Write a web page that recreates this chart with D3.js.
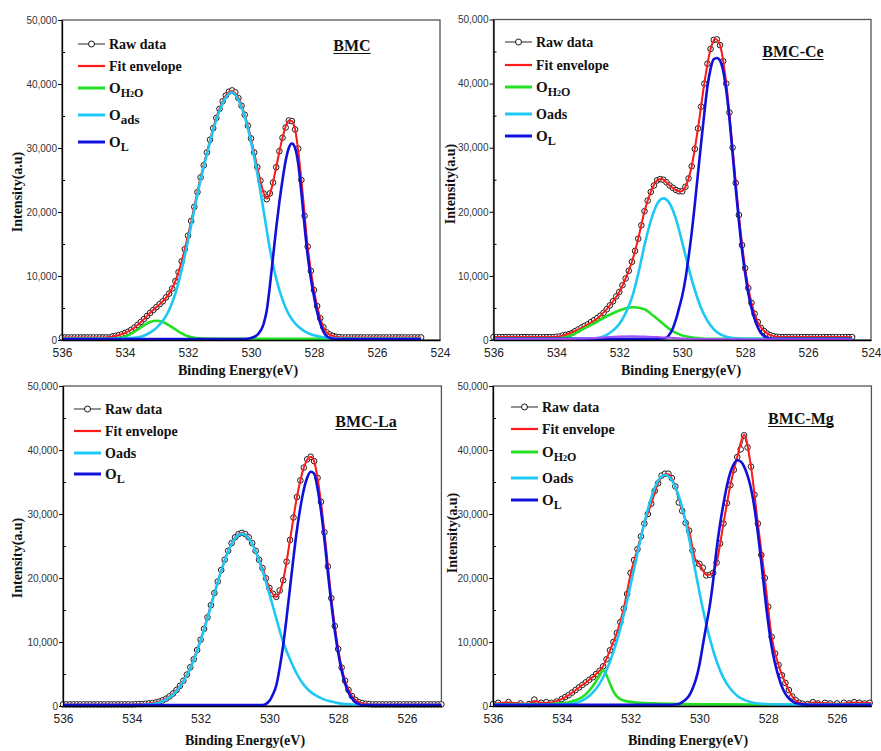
<!DOCTYPE html>
<html><head><meta charset="utf-8">
<script src="https://cdn.jsdelivr.net/npm/d3@7"></script>
<style>body{margin:0;background:#fff}svg{display:block}</style>
</head><body><svg id="c" width="881" height="751"></svg>
<script>
// ---------- DATA (intensities in thousands of counts, energies in eV) ----------
const xTicksWide=[536,534,532,530,528,526,524];
const xTicksNarrow=[536,534,532,530,528,526];
const yTicks=[0,10000,20000,30000,40000,50000];
const yMinorTicks=[5000,15000,25000,35000,45000];
const K=1000;
const rawStep=0.1;

// BMC raw data, 536.0 -> 524.6 eV
const bmcRaw=[0.4,0.4,0.4,0.4,0.4,0.4,0.4,0.4,0.4,0.4,0.4,0.4,0.4,0.4,0.4,0.4,
0.55,0.65,0.75,0.9,1.1,1.3,1.6,1.95,2.35,2.8,3.25,3.75,4.25,4.7,5.15,5.6,6.05,6.65,7.25,8.05,9.2,10.6,12.3,14.2,16.3,18.6,20.8,23.1,25.4,27.3,29.3,31.3,33.1,34.7,36.1,37.3,38.2,38.8,39.0,38.7,37.8,36.6,35.2,33.5,31.5,29.3,27.0,24.9,22.9,22.0,22.9,24.6,27.0,29.5,31.6,33.2,34.3,34.2,32.9,29.9,25.0,19.4,14.6,10.8,7.8,5.3,3.4,2.0,1.2,0.85,0.65,0.5,0.45,0.4,
0.4,0.4,0.4,0.4,0.4,0.4,0.4,0.4,0.4,0.4,0.4,0.4,0.4,0.4,0.4,0.4,0.4,0.4,0.4,0.4,0.4,0.4,0.4,0.4,0.4];
const bmcEnv=[[536,0.4],[534.6,0.4],[534.4,0.55],[534.2,0.75],[534,1.1],[533.8,1.6],[533.6,2.35],[533.4,3.25],[533.2,4.25],[533,5.15],[532.8,6.05],[532.6,7.25],[532.4,9.2],[532.2,12.3],[532,16.3],[531.8,20.8],[531.6,25.4],[531.4,29.3],[531.2,33.1],[531,36.1],[530.8,38.2],[530.6,38.9],[530.4,37.8],[530.2,35.2],[530,31.5],[529.8,27.0],[529.6,23.0],[529.5,22.1],[529.4,22.8],[529.2,27.0],[529,31.6],[528.8,34.3],[528.7,34.2],[528.6,32.9],[528.4,25.0],[528.2,14.6],[528,7.8],[527.8,3.4],[527.6,1.2],[527.4,0.65],[527.2,0.45],[527,0.4],[524.6,0.4]];
const bmcH2O=[[536,0.2],[534.5,0.2],[534.2,0.3],[534,0.55],[533.8,1.0],[533.6,1.6],[533.4,2.3],[533.2,2.8],[533,3.0],[532.8,2.8],[532.6,2.3],[532.4,1.65],[532.2,1.05],[532,0.6],[531.8,0.35],[531.5,0.22],[531,0.2],[524.6,0.2]];
const bmcAds=[[536,0.2],[534.5,0.2],[534,0.25],[533.7,0.35],[533.5,0.5],[533.3,0.9],[533.1,1.5],[533,1.9],[532.8,3.0],[532.6,4.7],[532.4,7.3],[532.2,11.0],[532,15.5],[531.8,20.3],[531.6,25.0],[531.4,29.0],[531.2,32.8],[531,35.8],[530.8,37.9],[530.6,38.7],[530.4,37.5],[530.2,34.9],[530,31.0],[529.8,26.0],[529.6,20.2],[529.4,14.2],[529.2,9.6],[529,6.3],[528.8,4.0],[528.6,2.6],[528.4,1.7],[528.2,1.1],[528,0.75],[527.8,0.5],[527.5,0.3],[527,0.2],[524.6,0.2]];
const bmcOL=[[536,0.15],[530.2,0.15],[530,0.3],[529.8,0.8],[529.6,2.5],[529.5,4.6],[529.4,8.5],[529.3,13.0],[529.2,17.5],[529.1,21.5],[529,25.0],[528.9,28.0],[528.8,30.0],[528.7,30.7],[528.6,30.0],[528.5,27.5],[528.4,23.0],[528.3,17.8],[528.2,13.2],[528.1,9.6],[528,6.8],[527.9,4.4],[527.8,2.6],[527.7,1.3],[527.6,0.6],[527.5,0.3],[527.3,0.15],[524.6,0.15]];

// BMC-Ce raw data, 536.0 -> 524.6 eV
const ceRaw=[0.45,0.45,0.45,0.45,0.45,0.45,0.45,0.45,0.45,0.45,0.45,0.45,0.45,0.45,0.45,0.45,0.45,0.45,0.45,0.45,
0.5,0.55,0.7,0.8,0.9,1.1,1.4,1.65,1.95,2.2,2.45,2.8,3.1,3.45,3.8,4.25,4.8,5.4,6.05,6.8,7.5,8.55,9.6,10.8,12.2,13.9,15.8,17.9,20.1,21.75,23.1,24.1,24.9,25.1,25.0,24.6,24.1,23.75,23.4,23.2,23.2,23.9,25.2,27.1,29.8,33.0,36.4,40.0,43.1,45.4,46.8,46.9,46.0,43.5,40.0,35.5,30.0,24.5,19.5,14.8,11.2,8.1,5.8,4.1,2.8,1.9,1.4,1.0,0.75,0.6,0.5,
0.45,0.45,0.45,0.45,0.45,0.45,0.45,0.45,0.45,0.45,0.45,0.45,0.45,0.45,0.45,0.45,0.45,0.45,0.45,0.45,0.45,0.45,0.45,0.45];
const ceEnv=[[536,0.45],[534.1,0.45],[533.8,0.7],[533.4,1.4],[533,2.45],[532.6,3.8],[532.2,6.05],[532,7.5],[531.8,9.6],[531.6,12.2],[531.4,15.8],[531.2,20.1],[531,23.1],[530.8,24.9],[530.65,25.1],[530.4,24.1],[530.2,23.4],[530.05,23.15],[529.9,23.9],[529.7,27.1],[529.5,33.0],[529.3,40.0],[529.1,45.4],[528.95,46.95],[528.8,46.0],[528.6,40.0],[528.4,30.0],[528.2,19.5],[528,11.2],[527.8,5.8],[527.6,2.8],[527.4,1.4],[527.2,0.75],[527,0.5],[526.8,0.45],[524.6,0.45]];
const ceH2O=[[536,0.2],[534,0.2],[533.6,0.6],[533.2,1.6],[532.8,2.6],[532.4,3.7],[532,4.6],[531.8,4.95],[531.55,5.1],[531.2,4.8],[531,4.1],[530.8,3.3],[530.6,2.5],[530.4,1.7],[530.2,1.1],[530,0.7],[529.6,0.35],[529.2,0.2],[524.6,0.2]];
const ceAds=[[536,0.2],[533,0.2],[532.6,0.4],[532.4,0.8],[532.2,1.5],[532,2.5],[531.8,4.2],[531.6,6.6],[531.4,10.3],[531.2,14.8],[531,18.6],[530.8,21.2],[530.6,22.1],[530.4,21.3],[530.2,18.9],[530,15.2],[529.8,11.3],[529.6,7.8],[529.4,5.0],[529.2,3.0],[529,1.7],[528.8,0.9],[528.6,0.5],[528.4,0.3],[528,0.2],[524.6,0.2]];
const ceOL=[[536,0.2],[530.7,0.2],[530.5,0.35],[530.4,0.9],[530.3,1.8],[530.2,3.2],[530.1,5.0],[530,6.9],[529.9,9.5],[529.8,12.9],[529.7,16.7],[529.6,21.2],[529.5,26.0],[529.4,30.7],[529.3,35.3],[529.2,39.5],[529.1,42.3],[529,43.8],[528.9,44.0],[528.8,43.6],[528.7,42.0],[528.6,38.9],[528.5,34.5],[528.4,29.1],[528.3,23.6],[528.2,18.6],[528.1,14.0],[528,10.4],[527.9,7.3],[527.8,5.0],[527.7,3.3],[527.6,2.0],[527.5,1.1],[527.4,0.6],[527.3,0.35],[527.1,0.2],[524.6,0.2]];
const ceExtra=[[536,0.15],[534,0.15],[533,0.25],[532.5,0.4],[532,0.55],[531.6,0.6],[531.2,0.55],[530.8,0.45],[530.4,0.35],[530,0.25],[529.5,0.15],[528,0.1],[524.6,0.1]];

// BMC-La raw data, 536.0 -> 525.0 eV
const laRaw=[0.25,0.25,0.25,0.25,0.25,0.25,0.25,0.25,0.25,0.25,0.25,0.25,0.25,0.25,0.25,0.25,0.25,0.25,0.25,0.25,0.25,
0.27,0.3,0.3,0.35,0.4,0.45,0.55,0.7,0.9,1.15,1.5,1.95,2.5,3.15,3.95,4.9,6.05,7.3,8.75,10.35,12.05,13.85,15.75,17.65,19.45,21.25,22.85,24.25,25.45,26.35,26.85,27.05,26.85,26.35,25.45,24.25,22.85,21.55,19.95,18.45,17.55,17.05,18.05,19.65,22.55,25.95,29.45,32.65,35.25,37.25,38.55,38.95,38.25,35.65,31.9,27.15,21.8,16.85,12.5,8.9,6.0,3.95,2.5,1.55,0.95,0.6,0.45,0.35,0.3,
0.25,0.25,0.25,0.25,0.25,0.25,0.25,0.25,0.25,0.25,0.25,0.25,0.25,0.25,0.25,0.25,0.25,0.25,0.25,0.25,0.25];
const laEnv=[[536,0.25],[534,0.25],[533.6,0.35],[533.2,0.7],[532.8,1.95],[532.4,4.9],[532,10.35],[531.6,17.65],[531.2,24.25],[531,26.35],[530.8,27.05],[530.6,26.35],[530.4,24.25],[530.2,21.55],[530,18.45],[529.8,17.05],[529.6,19.65],[529.4,25.95],[529.2,32.65],[529,37.25],[528.8,38.95],[528.7,38.25],[528.6,35.65],[528.4,27.15],[528.2,16.85],[528,8.9],[527.8,3.95],[527.6,1.55],[527.4,0.6],[527.2,0.35],[527,0.25],[525,0.25]];
const laAds=[[536,0.15],[534,0.15],[533.7,0.2],[533.4,0.3],[533.2,0.55],[533,1.02],[532.8,1.8],[532.6,3.0],[532.4,4.77],[532.2,7.15],[532,10.2],[531.8,13.7],[531.6,17.5],[531.4,21.1],[531.2,24.1],[531,26.2],[530.8,26.9],[530.6,26.2],[530.4,24.1],[530.2,21.1],[530,17.5],[529.8,13.7],[529.6,10.0],[529.4,7.3],[529.2,5.0],[529,3.3],[528.8,2.2],[528.6,1.5],[528.4,1.0],[528.2,0.7],[528,0.45],[527.8,0.3],[527.5,0.2],[527,0.15],[525,0.15]];
const laOL=[[536,0.15],[530.2,0.15],[530,0.8],[529.9,1.8],[529.8,3.2],[529.7,6.0],[529.6,9.5],[529.5,13.8],[529.4,18.5],[529.3,23.2],[529.2,27.5],[529.1,31.0],[529,33.8],[528.9,35.7],[528.8,36.6],[528.7,36.3],[528.6,34.0],[528.5,30.5],[528.4,26.0],[528.3,20.8],[528.2,16.0],[528.1,11.8],[528,8.3],[527.9,5.5],[527.8,3.5],[527.7,2.1],[527.6,1.2],[527.5,0.6],[527.4,0.3],[527.3,0.15],[525,0.15]];

// BMC-Mg raw data: noisy baseline points + 0.1 eV grid 533.9 -> 527.0 eV
const mgRawLeft=[[536,0.3],[535.85,0.5],[535.55,0.6],[535.2,0.4],[534.95,0.3],[534.8,1.0],[534.6,0.5],[534.45,0.6],[534.3,0.5],[534.15,0.7],[534.0,1.1]];
const mgRawGrid=[1.4,1.7,2.1,2.5,2.9,3.3,3.7,4.1,4.5,5.0,5.5,6.2,7.3,8.7,10.0,11.4,13.1,15.2,17.5,20.8,22.8,24.5,26.5,28.5,30.0,31.6,33.6,34.8,36.0,36.3,36.3,35.6,34.3,31.8,30.5,28.6,27.4,24.3,22.4,22.2,21.6,20.4,20.5,20.8,22.4,25.4,28.5,31.7,34.5,36.9,38.9,40.1,42.3,40.4,37.4,33.0,28.5,23.6,20.0,15.5,10.8,8.2,6.4,4.8,3.6,2.5,1.5,0.9,0.5,0.35];
const mgRawRight=[[526.85,0.3],[526.7,0.6],[526.55,0.4],[526.35,0.5],[526.2,0.4],[526.0,0.4],[525.8,0.5],[525.65,0.4],[525.5,0.6],[525.35,0.5],[525.2,0.4],[525.05,0.5]];
const mgEnv=[[536,0.3],[535.85,0.45],[535.55,0.55],[535.2,0.4],[534.95,0.35],[534.8,0.8],[534.6,0.5],[534.3,0.55],[534,1.1],[533.8,1.7],[533.6,2.5],[533.4,3.3],[533.2,4.1],[533,5.0],[532.8,6.2],[532.6,8.7],[532.4,11.4],[532.2,15.2],[532,20.6],[531.8,24.5],[531.6,28.5],[531.4,31.6],[531.2,34.8],[531,36.2],[530.9,36.2],[530.7,34.3],[530.5,30.6],[530.3,27.4],[530.1,22.6],[530,22.2],[529.8,20.5],[529.65,20.6],[529.5,22.4],[529.3,28.5],[529.1,34.5],[528.9,38.9],[528.7,42.4],[528.5,37.4],[528.3,28.5],[528.1,20.0],[527.9,10.8],[527.7,6.4],[527.5,3.6],[527.3,1.5],[527.1,0.5],[526.9,0.35],[526.7,0.55],[526.4,0.45],[526,0.35],[525.5,0.55],[525,0.45]];
const mgH2O=[[536,0.25],[534.5,0.25],[534,0.45],[533.8,0.6],[533.6,0.9],[533.4,1.4],[533.2,2.4],[533,3.9],[532.9,4.8],[532.8,5.6],[532.7,4.8],[532.6,3.5],[532.5,2.3],[532.4,1.5],[532.2,0.85],[532,0.65],[531.7,0.5],[531.2,0.4],[530.5,0.3],[529.5,0.25],[525,0.2]];
const mgAds=[[536,0.2],[534.2,0.2],[533.9,0.25],[533.7,0.35],[533.5,0.64],[533.3,1.2],[533.1,2.1],[532.9,3.5],[532.7,5.6],[532.5,8.45],[532.3,12.1],[532.1,16.5],[531.9,21.4],[531.7,26.3],[531.5,30.7],[531.3,34.1],[531.1,35.9],[531,36.1],[530.9,35.9],[530.7,34.2],[530.5,31.0],[530.3,26.2],[530.1,20.6],[529.9,15.2],[529.7,10.6],[529.5,7.0],[529.3,4.4],[529.1,2.7],[528.9,1.6],[528.7,0.95],[528.5,0.6],[528.2,0.35],[527.8,0.25],[527,0.2],[525,0.2]];
const mgOL=[[536,0.2],[530.8,0.2],[530.6,0.3],[530.5,0.6],[530.4,1.0],[530.3,1.6],[530.2,2.7],[530.1,4.2],[530,6.4],[529.9,9.5],[529.8,12.6],[529.7,15.6],[529.6,19.6],[529.5,24.5],[529.4,28.4],[529.3,31.6],[529.2,34.4],[529.1,36.5],[529,37.8],[528.9,38.4],[528.8,38.2],[528.7,37.4],[528.6,36.0],[528.5,34.0],[528.4,31.0],[528.3,27.0],[528.2,22.5],[528.1,17.5],[528,13.0],[527.9,9.3],[527.8,6.6],[527.7,4.6],[527.6,3.0],[527.5,1.9],[527.4,1.2],[527.3,0.75],[527.2,0.45],[527,0.25],[526.8,0.2],[525,0.2]];

// ---------- RENDERING ----------
const SERIF='"Liberation Serif","Times New Roman",serif';
const SANS='"Liberation Sans",Arial,sans-serif';
const COL={raw:'#4a4a4a',env:'#ff1a1a',h2o:'#22e022',ads:'#1ec8f5',lat:'#1010dc',extra:'#a050ff'};
const svg=d3.select('#c');

function onGrid(start,vals){return vals.map((v,i)=>[+(start-rawStep*i).toFixed(2),v]);}

const panels=[
 {title:'BMC',box:[62,20,440,340],dom:[536,524],ticks:xTicksWide,
  raw:onGrid(536,bmcRaw),env:bmcEnv,comps:[['h2o',bmcH2O],['ads',bmcAds],['lat',bmcOL]],
  leg:{x:78,ys:[44,66,88,115,142],items:['raw','env','h2o','adsSub','lat']},
  tx:352,ty:51,ylx:17,yly:192,xlx:238,xly:375},
 {title:'BMC-Ce',box:[493.5,19.5,871,340],dom:[536,524],ticks:xTicksWide,
  raw:onGrid(536,ceRaw),env:ceEnv,comps:[['h2o',ceH2O],['ads',ceAds],['lat',ceOL],['extra',ceExtra]],
  leg:{x:505,ys:[42,65,87,114,136],items:['raw','env','h2o','adsPlain','lat']},
  tx:793,ty:57,ylx:450,yly:184,xlx:681,xly:375},
 {title:'BMC-La',box:[63,386,441.4,706],dom:[536,525],ticks:xTicksNarrow,
  raw:onGrid(536,laRaw),env:laEnv,comps:[['ads',laAds],['lat',laOL]],
  leg:{x:74,ys:[409,431,453,474],items:['raw','env','adsPlain','lat']},
  tx:366,ty:427,ylx:17,yly:558,xlx:245,xly:745},
 {title:'BMC-Mg',box:[493,386,871.4,706],dom:[536,525],ticks:xTicksNarrow,
  raw:mgRawLeft.concat(onGrid(533.9,mgRawGrid),mgRawRight),env:mgEnv,comps:[['h2o',mgH2O],['ads',mgAds],['lat',mgOL]],
  leg:{x:511,ys:[407,429,452,478,500],items:['raw','env','h2o','adsPlain','lat']},
  tx:801,ty:424,ylx:452,yly:533,xlx:688,xly:745}
];

function legendLabel(t,key){
  t.attr('font-family',SERIF).attr('font-weight','bold').attr('font-size',14).attr('fill','#111');
  if(key==='raw'){t.text('Raw data');return;}
  if(key==='env'){t.text('Fit envelope');return;}
  if(key==='adsPlain'){t.text('Oads');return;}
  t.append('tspan').text('O').attr('font-size',15);
  if(key==='h2o'){
    t.append('tspan').attr('dy',4).attr('font-size',12).text('H');
    t.append('tspan').attr('font-size',8).text('2');
    t.append('tspan').attr('font-size',12).text('O');
  } else if(key==='adsSub'){
    t.append('tspan').attr('dy',4).attr('font-size',13).text('ads');
  } else if(key==='lat'){
    t.append('tspan').attr('dy',4).attr('font-size',12).text('L');
  }
}
const legColor={raw:COL.raw,env:COL.env,h2o:COL.h2o,adsSub:COL.ads,adsPlain:COL.ads,lat:COL.lat};

function draw(p){
  const [x0,y0,x1,y1]=p.box;
  const x=d3.scaleLinear().domain(p.dom).range([x0,x1]);
  const y=d3.scaleLinear().domain([0,50000]).range([y1,y0]);
  const g=svg.append('g');
  const smooth=d3.line().x(d=>x(d[0])).y(d=>y(d[1]*K)).curve(d3.curveMonotoneX);
  const straight=d3.line().x(d=>x(d[0])).y(d=>y(d[1]*K));

  // frame
  g.append('rect').attr('x',x0).attr('y',y0).attr('width',x1-x0).attr('height',y1-y0)
   .attr('fill','none').attr('stroke','#555').attr('stroke-width',1.3);

  // raw data
  g.append('path').attr('d',straight(p.raw)).attr('fill','none').attr('stroke',COL.raw).attr('stroke-width',1);
  g.append('g').selectAll('circle').data(p.raw).join('circle')
   .attr('cx',d=>x(d[0])).attr('cy',d=>y(d[1]*K)).attr('r',2.8)
   .attr('fill','#fff').attr('stroke','#1a1a1a').attr('stroke-width',1);

  // fit envelope
  g.append('path').attr('d',smooth(p.env)).attr('fill','none').attr('stroke',COL.env).attr('stroke-width',2);
  // components
  p.comps.forEach(([k,arr])=>{
    g.append('path').attr('d',smooth(arr)).attr('fill','none').attr('stroke',COL[k])
     .attr('stroke-width',k==='extra'?2:2.6);
  });

  // axes
  const ya=g.append('g').attr('transform',`translate(${x0},0)`)
    .call(d3.axisLeft(y).tickValues(yTicks).tickSize(4).tickSizeOuter(0).tickPadding(1).tickFormat(d3.format(',')));
  ya.select('.domain').attr('stroke','#000').attr('stroke-width',1.3);
  ya.selectAll('line').attr('stroke','#000');
  ya.selectAll('text').attr('font-family',SANS).attr('font-size',10).attr('fill','#333');
  const ym=g.append('g').attr('transform',`translate(${x0},0)`)
    .call(d3.axisLeft(y).tickValues(yMinorTicks).tickSize(-3).tickSizeOuter(0).tickFormat(''));
  ym.select('.domain').remove();
  ym.selectAll('line').attr('stroke','#000');
  const xa=g.append('g').attr('transform',`translate(0,${y1})`)
    .call(d3.axisBottom(x).tickValues(p.ticks).tickSize(0).tickSizeOuter(0).tickPadding(8).tickFormat(d3.format('d')));
  xa.select('.domain').attr('stroke','#000').attr('stroke-width',1.3);
  xa.selectAll('text').attr('font-family',SANS).attr('font-size',12).attr('fill','#222');

  // axis titles
  g.append('text').attr('transform',`translate(${p.ylx},${p.yly}) rotate(-90)`)
   .attr('text-anchor','middle').attr('dy','0.35em')
   .attr('font-family',SERIF).attr('font-weight','bold').attr('font-size',14).attr('fill','#111')
   .text('Intensity(a.u)');
  g.append('text').attr('x',p.xlx).attr('y',p.xly).attr('text-anchor','middle')
   .attr('font-family',SERIF).attr('font-weight','bold').attr('font-size',14).attr('fill','#111')
   .text('Binding Energy(eV)');

  // title with underline
  const tt=g.append('text').attr('x',p.tx).attr('y',p.ty).attr('text-anchor','middle')
   .attr('font-family',SERIF).attr('font-weight','bold').attr('font-size',16).attr('fill','#111').text(p.title);
  const w=tt.node().getComputedTextLength();
  g.append('line').attr('x1',p.tx-w/2).attr('x2',p.tx+w/2).attr('y1',p.ty+2.5).attr('y2',p.ty+2.5)
   .attr('stroke','#111').attr('stroke-width',1.2);

  // legend
  p.leg.items.forEach((key,i)=>{
    const ly=p.leg.ys[i], lx=p.leg.x;
    const col=legColor[key];
    g.append('line').attr('x1',lx).attr('x2',lx+27).attr('y1',ly).attr('y2',ly)
     .attr('stroke',col).attr('stroke-width',key==='raw'?1.2:(key==='env'?2.2:3));
    if(key==='raw'){
      g.append('circle').attr('cx',lx+13.5).attr('cy',ly).attr('r',3)
       .attr('fill','#fff').attr('stroke','#1a1a1a').attr('stroke-width',1);
    }
    const t=g.append('text').attr('x',lx+31).attr('y',ly+5);
    legendLabel(t,key);
  });
}
panels.forEach(draw);
</script></body></html>
